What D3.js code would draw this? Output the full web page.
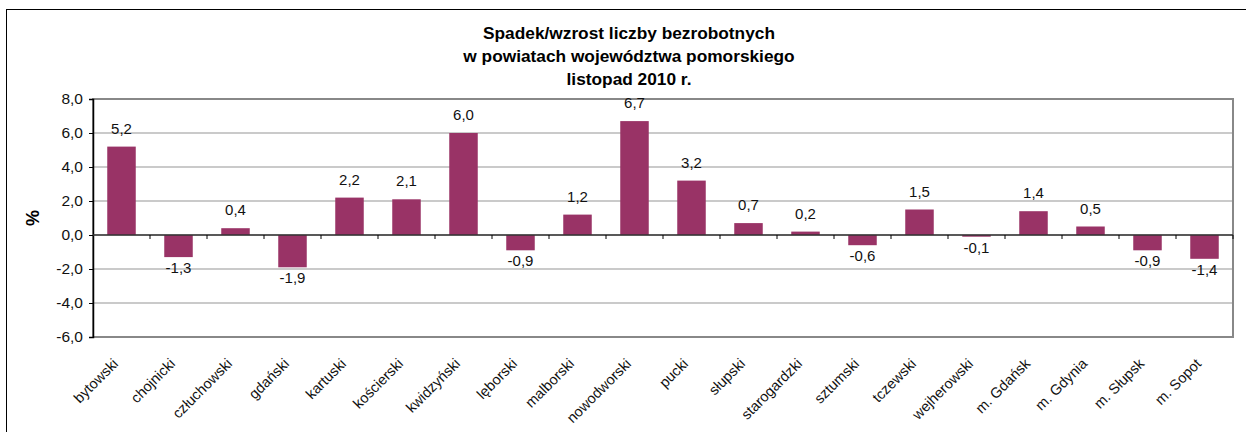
<!DOCTYPE html>
<html>
<head>
<meta charset="utf-8">
<script src="https://cdn.jsdelivr.net/npm/d3@7"></script>
<style>
  body { margin: 0; background: #fff; }
  text { font-family: "Liberation Sans", Arial, sans-serif; }
</style>
</head>
<body>
<div id="chart"></div>
<script>
// --- Données ---
const powiaty = ["bytowski", "chojnicki", "człuchowski", "gdański", "kartuski", "kościerski",
  "kwidzyński", "lęborski", "malborski", "nowodworski", "pucki", "słupski", "starogardzki",
  "sztumski", "tczewski", "wejherowski", "m. Gdańsk", "m. Gdynia", "m. Słupsk", "m. Sopot"];
const zmiana = [5.2, -1.3, 0.4, -1.9, 2.2, 2.1, 6.0, -0.9, 1.2, 6.7, 3.2, 0.7, 0.2, -0.6, 1.5, -0.1, 1.4, 0.5, -0.9, -1.4];
const yTicks = [-6, -4, -2, 0, 2, 4, 6, 8];
const titleLines = ["Spadek/wzrost liczby bezrobotnych", "w powiatach województwa pomorskiego", "listopad 2010 r."];

const width = 1246, height = 432;
const plot = { left: 93, top: 99, right: 1233, bottom: 337 };
const fmt = (v) => v.toFixed(1).replace(".", ",");

const svg = d3.select("#chart").append("svg")
  .attr("width", width).attr("height", height);

// --- Ramka zewnętrzna ---
svg.append("rect")
  .attr("x", 6.5).attr("y", 9.5).attr("width", 1400).attr("height", 600)
  .attr("fill", "none").attr("stroke", "#000");

// --- Tytuł ---
svg.append("g").selectAll("text").data(titleLines).join("text")
  .attr("x", 629).attr("y", (d, i) => 39 + i * 23)
  .attr("text-anchor", "middle")
  .style("font-size", "17.3px").style("font-weight", "bold")
  .text((d) => d);

// --- Skale ---
const x = d3.scaleBand().domain(powiaty).range([plot.left, plot.right]).paddingInner(0.5).paddingOuter(0.25);
const y = d3.scaleLinear().domain([-6, 8]).range([plot.bottom, plot.top]);

// --- Siatka ---
svg.append("g").selectAll("line").data(yTicks.filter((t) => t > -6 && t < 8)).join("line")
  .attr("x1", plot.left).attr("x2", plot.right)
  .attr("y1", (d) => y(d)).attr("y2", (d) => y(d))
  .attr("stroke", "#b8b8b8").attr("stroke-width", 1.5);

// --- Ramka obszaru wykresu ---
svg.append("rect")
  .attr("x", plot.left).attr("y", plot.top)
  .attr("width", plot.right - plot.left).attr("height", plot.bottom - plot.top)
  .attr("fill", "none").attr("stroke", "#888").attr("stroke-width", 2);

// --- Słupki ---
svg.append("g").selectAll("rect").data(zmiana).join("rect")
  .attr("x", (d, i) => x(powiaty[i]))
  .attr("width", x.bandwidth())
  .attr("y", (d) => y(Math.max(0, d)))
  .attr("height", (d) => Math.abs(y(d) - y(0)))
  .attr("fill", "#993366");

// --- Etykiety wartości ---
svg.append("g").selectAll("text").data(zmiana).join("text")
  .attr("x", (d, i) => x(powiaty[i]) + x.bandwidth() / 2)
  .attr("y", (d) => d >= 0 ? y(d) - 13 : y(d) + 16)
  .attr("text-anchor", "middle")
  .style("font-size", "15px").style("fill", "#111")
  .text((d) => fmt(d));

// --- Oś Y ---
const yAxis = d3.axisLeft(y).tickValues(yTicks).tickSize(4).tickPadding(6).tickFormat(fmt);
const gy = svg.append("g").attr("transform", `translate(${plot.left},0)`).call(yAxis);
gy.select(".domain").attr("stroke", "#000").attr("stroke-width", 1.5);
gy.selectAll(".tick line").attr("stroke", "#000");
gy.selectAll("text").style("font-size", "15.5px").style("fill", "#111")
  .style("font-family", "'Liberation Sans', Arial, sans-serif");

// --- Linia zera i podziałki kategorii ---
svg.append("line")
  .attr("x1", plot.left).attr("x2", plot.right)
  .attr("y1", y(0)).attr("y2", y(0))
  .attr("stroke", "#333").attr("stroke-width", 1.5);
const step = x.step();
svg.append("g").selectAll("line").data(d3.range(1, powiaty.length + 1)).join("line")
  .attr("x1", (i) => plot.left + i * step).attr("x2", (i) => plot.left + i * step)
  .attr("y1", y(0)).attr("y2", y(0) + 4)
  .attr("stroke", "#000");

// --- Etykiety kategorii ---
svg.append("g").selectAll("text").data(powiaty).join("text")
  .attr("transform", (d) => `translate(${x(d) + x.bandwidth() / 2 - 6},${plot.bottom + 24}) rotate(-45)`)
  .attr("text-anchor", "end")
  .attr("dy", "0.35em")
  .style("font-size", "14.5px").style("fill", "#111")
  .text((d) => d);

// --- Tytuł osi Y ---
svg.append("text")
  .attr("transform", "translate(39,218) rotate(-90)")
  .attr("text-anchor", "middle")
  .style("font-size", "18px").style("font-weight", "bold")
  .text("%");
</script>
</body>
</html>
